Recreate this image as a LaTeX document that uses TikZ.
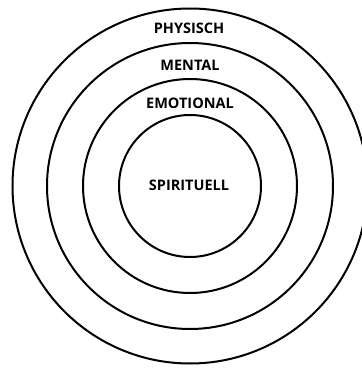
\documentclass[tikz,border=0pt]{standalone}
\usepackage{fontspec}
\setmainfont{Open Sans}
\begin{document}
\begin{tikzpicture}[x=1pt,y=1pt,
  ring/.style={draw=black,line width=2pt},
  lbl/.style={font=\bfseries\fontsize{14.5}{15}\selectfont,inner sep=0pt,anchor=center}]
\useasboundingbox[fill=white] (0,0) rectangle (362,368);
\coordinate (c) at (190,182);
\draw[ring] (c) circle[radius=71];
\draw[ring] (c) circle[radius=107];
\draw[ring] (c) circle[radius=143];
\draw[ring] (c) circle[radius=177.5];
\node[lbl] (phy) at (189,340) {PHYSISCH};
\node[lbl] (men) at (190,303) {MENTAL};
\node[lbl] (emo) at (190,265) {EMOTIONAL};
\node[lbl] (spi) at (189,183) {SPIRITUELL};
\end{tikzpicture}
\end{document}
